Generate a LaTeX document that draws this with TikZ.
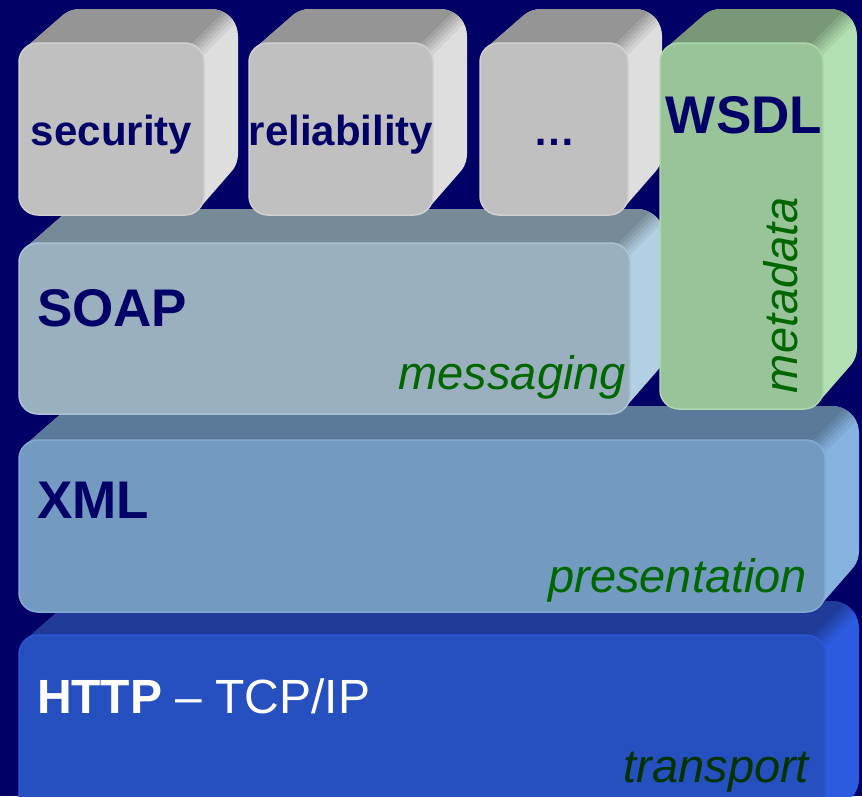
\documentclass[tikz,border=0pt]{standalone}
\usepackage{fontspec}
\setmainfont{Liberation Sans}
\definecolor{navy}{HTML}{000066}
\definecolor{txtgreen}{HTML}{006600}
\definecolor{txtdkgreen}{HTML}{003300}
% gray blocks
\definecolor{gfront}{HTML}{C0C0C0}
\definecolor{gtop}{HTML}{959595}
\definecolor{gside}{HTML}{DEDEDE}
\definecolor{grim}{HTML}{D0D0D0}
% SOAP
\definecolor{sfront}{HTML}{9AB0BF}
\definecolor{stop}{HTML}{778A97}
\definecolor{sside}{HTML}{B3CFE3}
\definecolor{srim}{HTML}{AAC4D6}
% XML
\definecolor{xfront}{HTML}{739AC1}
\definecolor{xtop}{HTML}{5B7A99}
\definecolor{xside}{HTML}{86B2DF}
\definecolor{xrim}{HTML}{82ABD4}
% HTTP
\definecolor{hfront}{HTML}{264FBF}
\definecolor{htop}{HTML}{203C98}
\definecolor{hside}{HTML}{2D5BDF}
\definecolor{hrim}{HTML}{2A56D2}
% WSDL
\definecolor{wfront}{HTML}{99C399}
\definecolor{wtop}{HTML}{789878}
\definecolor{wside}{HTML}{B2E0B2}
\definecolor{wrim}{HTML}{AAD8AA}
\newcommand{\dep}{34}
\newcommand{\rr}{19}
\newcommand{\rb}{27}
% #1 x0, #2 y0, #3 x1, #4 y1 (screen pixels, y downwards), #5 front, #6 top, #7 side, #8 rim
\newcommand{\drawblock}[8]{%
  \begin{scope}
    \path[clip] ({#1+\rr},{#4}) -- ({#3-\rr},{#4})
      \foreach \a in {81,72,...,45} { -- ({#3-\rr+\rr*cos(\a)},{#4-\rr+\rr*sin(\a)}) }
      \foreach \a in {45,36,...,0} { -- ({#3-\rb+\dep+\rb*cos(\a)},{#4-\rb-\dep+\rb*sin(\a)}) }
      \foreach \a in {0,-9,...,-90} { -- ({#3-\rb+\dep+\rb*cos(\a)},{#2+\rb-\dep+\rb*sin(\a)}) }
      \foreach \a in {-90,-99,...,-135} { -- ({#1+\rb+\dep+\rb*cos(\a)},{#2+\rb-\dep+\rb*sin(\a)}) }
      \foreach \a in {-135,-144,...,-180} { -- ({#1+\rr+\rr*cos(\a)},{#2+\rr+\rr*sin(\a)}) }
      \foreach \a in {180,171,...,90} { -- ({#1+\rr+\rr*cos(\a)},{#4-\rr+\rr*sin(\a)}) }
      -- cycle;
    \fill[#7] ({#1-60},{#2-100}) rectangle ({#3+100},{#4+10});
    \fill[#6] ({#1-100},{#2+\rr}) -- ({#3-1.6*\rr},{#2+\rr})
      -- ({#3-0.6*\rr+\dep+30},{#2-\dep-30}) -- ({#1-100},{#2-\dep-30}) -- cycle;
    \foreach \k/\m in {0/83,1/67,2/50,3/33,4/17}{%
      \fill[#6!\m!#7] ({#3-1.6*\rr+0.24*\rr*\k},{#2+\rr})
        -- ({#3-0.6*\rr+\dep+30+0.24*\rr*\k},{#2-\dep-30})
        -- ({#3-0.6*\rr+\dep+30+0.24*\rr*\k+0.27*\rr},{#2-\dep-30})
        -- ({#3-1.6*\rr+0.24*\rr*\k+0.27*\rr},{#2+\rr}) -- cycle;
    }
  \end{scope}
  \filldraw[fill=#5, draw=#8, line width=1.5pt, rounded corners=\rr pt] (#1,#2) rectangle (#3,#4);
}
\tikzset{
  boxlabel/.style={inner sep=0pt, outer sep=0pt, text=navy, font=\bfseries\fontsize{42}{48}\selectfont},
  layername/.style={inner sep=0pt, outer sep=0pt, text=navy, font=\bfseries\fontsize{53}{60}\selectfont, anchor=base west},
  rolelabel/.style={inner sep=0pt, outer sep=0pt, text=txtgreen, font=\itshape\fontsize{47}{54}\selectfont},
}
\begin{document}
\begin{tikzpicture}[x=1pt, y=-1pt]
  \useasboundingbox (0,0) rectangle (862,796);
  \clip (0,0) rectangle (862,796);
  \fill[navy] (0,0) rectangle (862,796);
  % layers, bottom first
  \drawblock{19}{635}{825}{840}{hfront}{htop}{hside}{hrim}
  \drawblock{19}{440}{825}{612}{xfront}{xtop}{xside}{xrim}
  \drawblock{19}{243}{630}{414}{sfront}{stop}{sside}{srim}
  \drawblock{19}{43}{204}{215}{gfront}{gtop}{gside}{grim}
  \drawblock{249}{43}{433}{215}{gfront}{gtop}{gside}{grim}
  \drawblock{480}{43}{628}{215}{gfront}{gtop}{gside}{grim}
  \drawblock{660}{43}{823}{409}{wfront}{wtop}{wside}{wrim}
  % labels
  \node[boxlabel, anchor=base] (sec) at (111.5,145) {security};
  \node[boxlabel, anchor=base] (rel) at (341,145) {reliability};
  \node[boxlabel, anchor=base] (dots) at (554,145) {…};
  \node[layername, anchor=base] (wsdl) at (744,133) {WSDL};
  \node[layername] (soap) at (37,326) {SOAP};
  \node[layername] (xml) at (37,518) {XML};
  \node[layername, text=white, font=\fontsize{48}{54}\selectfont] (http) at (37,713) {\textbf{HTTP} – TCP/IP};
  \node[rolelabel, anchor=base east] (msg) at (626,389) {messaging};
  \node[rolelabel, anchor=base east] (pres) at (807,592) {presentation};
  \node[rolelabel, anchor=base east, text=txtdkgreen] (trans) at (809,782) {transport};
  \node[rolelabel, anchor=base west, rotate=90] (meta) at (797,393) {metadata};
\end{tikzpicture}
\end{document}
